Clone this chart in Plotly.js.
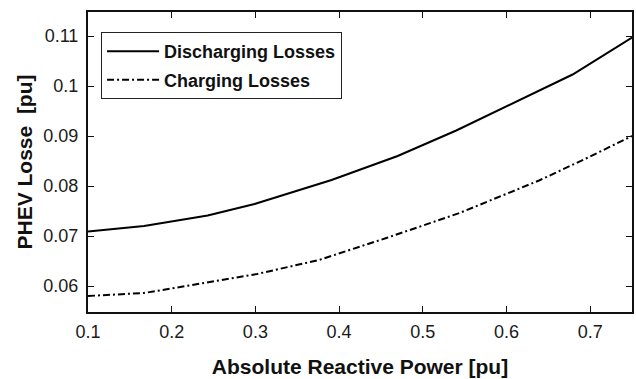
<!DOCTYPE html>
<html><head><meta charset="utf-8">
<script src="https://cdn.plot.ly/plotly-3.0.1.min.js"></script>
<style>html,body{margin:0;padding:0;background:#fff;}#chart{width:636px;height:379px;}</style>
</head><body><div id="chart"></div>
<script>
const xDis = [0.1, 0.167, 0.243, 0.299, 0.391, 0.47, 0.54, 0.6035, 0.679, 0.75];
const yDis = [0.0709, 0.072, 0.0741, 0.0764, 0.0812, 0.086, 0.0911, 0.0962, 0.1023, 0.1097];
const xChg = [0.1, 0.167, 0.235, 0.302, 0.376, 0.4565, 0.544, 0.5915, 0.639, 0.695, 0.75];
const yChg = [0.058, 0.0586, 0.0605, 0.0624, 0.0652, 0.0696, 0.0746, 0.0778, 0.0811, 0.0855, 0.09];
const names = ['Discharging Losses', 'Charging Losses'];
const xTicks = [0.1, 0.2, 0.3, 0.4, 0.5, 0.6, 0.7];
const yTicks = [0.06, 0.07, 0.08, 0.09, 0.1, 0.11];
const yTickText = ['0.06', '0.07', '0.08', '0.09', '0.1', '0.11'];

const font = 'Liberation Sans, Arial, Helvetica, sans-serif';
const data = [
  {x: xDis, y: yDis, name: names[0], legendgroup: 'a', mode: 'lines', line: {color: '#000', width: 2}},
  {x: xChg, y: yChg, name: names[1], legendgroup: 'b', mode: 'lines', line: {color: '#000', width: 2, dash: '7px,3px,2px,3px'}}
];
const axisCommon = {showline: true, linecolor: '#111', linewidth: 2, mirror: 'ticks', ticks: 'inside', ticklen: 6, tickwidth: 1, tickcolor: '#111', showgrid: false, zeroline: false, tickfont: {family: font, size: 18, color: '#1a1a1a'}};
const layout = {
  width: 636, height: 379,
  margin: {l: 88, r: 4, t: 12, b: 67},
  paper_bgcolor: '#fff', plot_bgcolor: '#fff',
  showlegend: true,
  legend: {x: 0.024, y: 0.933, xanchor: 'left', yanchor: 'top', bgcolor: '#fff', bordercolor: '#222', borderwidth: 1,
    font: {family: font, size: 18, color: '#111', weight: 'bold'}, tracegroupgap: 2, itemwidth: 52, traceorder: 'grouped'},
  xaxis: Object.assign({}, axisCommon, {range: [0.1, 0.75], tickvals: xTicks, ticktext: xTicks.map(String), ticklabelstandoff: 2,
    title: {text: '<b>Absolute Reactive Power [pu]</b>', font: {family: font, size: 21, color: '#111'}, standoff: 19}}),
  yaxis: Object.assign({}, axisCommon, {range: [0.0548, 0.1148], tickvals: yTicks, ticktext: yTickText, ticklabelstandoff: 4,
    title: {text: '<b>PHEV Losse\u00a0 [pu]</b>', font: {family: font, size: 21, color: '#111'}, standoff: 5}})
};
Plotly.newPlot('chart', data, layout, {staticPlot: true, displayModeBar: false});
</script></body></html>
